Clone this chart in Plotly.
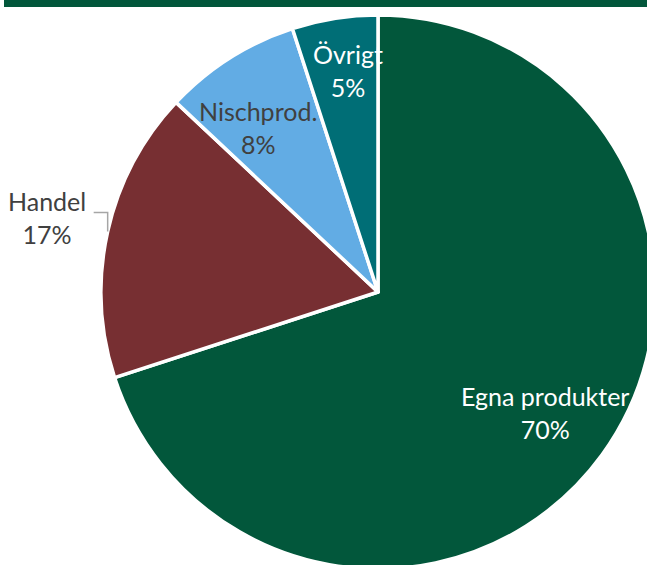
import math
import plotly.graph_objects as go

labels = ["Egna produkter", "Handel", "Nischprod.", "Övrigt"]
values = [70, 17, 8, 5]
colors = ["#02573B", "#772F32", "#62ACE4", "#006E76"]
text_colors = ["#FFFFFF", "#404040", "#404040", "#FFFFFF"]

# figure geometry (px)
W, H = 660, 575
CX, CY, R = 378, 292, 277
label_radius = [0.744, 1.22, 0.74, 0.805]
label_shift = [(0, -1), (-1, -1), (-10, 9), (5, -1)]
FONT = "Lato"
FS = 25

fig = go.Figure(go.Pie(
    labels=labels, values=values, sort=False, direction="clockwise", rotation=0,
    marker=dict(colors=colors, line=dict(color="white", width=3.5)),
    textinfo="none", hoverinfo="label+percent", showlegend=False,
    domain=dict(x=[(CX - R) / W, (CX + R) / W], y=[1 - (CY + R) / H, 1 - (CY - R) / H]),
))

total = sum(values)
cum = 0
annotations = []
shapes = []
for i, (lab, v) in enumerate(zip(labels, values)):
    mid = (cum + v / 2) / total * 2 * math.pi
    cum += v
    sx, sy = math.sin(mid), -math.cos(mid)
    px = CX + R * label_radius[i] * sx + label_shift[i][0]
    py = CY + R * label_radius[i] * sy + label_shift[i][1]
    pct = round(v / total * 100)
    annotations.append(dict(
        x=px / W, y=1 - py / H, xref="paper", yref="paper",
        text=f"{lab}<br>{pct}%", showarrow=False, xanchor="center", yanchor="middle",
        font=dict(family=FONT, size=FS, color=text_colors[i]),
    ))
    if label_radius[i] > 1:
        ex, ey = CX + R * sx, CY + R * sy
        pts = [(ex, ey), (ex, ey - 19), (ex - 14, ey - 19)]
        path = "M " + " L ".join(f"{x / W},{1 - y / H}" for x, y in pts)
        shapes.append(dict(type="path", path=path, xref="paper", yref="paper",
                           line=dict(color="#A6A6A6", width=1.5)))

shapes.append(dict(type="rect", xref="paper", yref="paper",
                   x0=4 / W, x1=1, y0=1 - 7 / H, y1=1,
                   fillcolor="#02573B", line=dict(width=0), layer="above"))

fig.update_layout(
    width=W, height=H, margin=dict(l=0, r=0, t=0, b=0),
    paper_bgcolor="white", plot_bgcolor="white",
    annotations=annotations, shapes=shapes,
)

fig.write_html("out.html", default_width=f"{W}px", default_height=f"{H}px",
               config={"displayModeBar": False, "responsive": False},
               post_script="document.documentElement.style.overflow='hidden';document.body.style.overflow='hidden';document.body.style.margin='0';")
